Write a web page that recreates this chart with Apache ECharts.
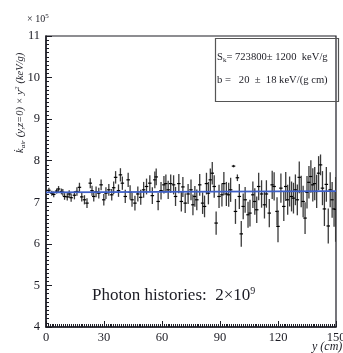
<!DOCTYPE html>
<html>
<head>
<meta charset="utf-8">
<script src="https://cdn.jsdelivr.net/npm/echarts@6/dist/echarts.min.js"></script>
<style>
  html, body { margin: 0; padding: 0; background: #fff; }
  #chart { width: 343px; height: 353px; }
</style>
</head>
<body>
<div id="chart"></div>
<script>
// y position along the phantom (cm)
const positions = [
  1.5, 3, 4, 5.5, 6.5, 8, 8.7, 9.6, 11, 12, 13, 14.7, 16, 17.3, 18.5, 19.9, 21.2, 22.9, 23.8, 24.7,
  25.9, 27.3, 28.5, 29.9, 31, 32.5, 34, 35, 36, 37.5, 38.5, 39.5, 41, 42.5, 43.5, 44.5, 46, 47.5, 49, 50.5,
  52, 53.7, 55, 56.3, 57, 58, 59.5, 61, 62, 63.2, 64.5, 66, 67, 68.7, 70, 70.8, 72, 73.5, 75, 76,
  77, 78, 79.5, 81, 82, 83, 84, 85, 86, 87, 88, 89.5, 91, 92, 93.3, 94.5, 95.5, 97, 98, 99,
  100, 101, 102, 103, 104.5, 105.5, 107, 108, 109, 110, 111.5, 113, 114, 115.5, 117, 118, 119.5, 120, 121.5, 123,
  124, 125, 126, 127, 128, 129, 130, 131, 132, 133, 134, 135, 136, 137, 138, 139, 140, 141, 142, 143,
  144, 145, 146, 147, 148, 149, 149.8
];
// k_air(y,z=0) * y^2, in units of 1e5 keV/g
const values = [
  7.29, 7.22, 7.19, 7.27, 7.32, 7.26, 7.24, 7.14, 7.13, 7.20, 7.11, 7.17, 7.26, 7.36, 7.13, 7.06, 6.98, 7.46, 7.28, 7.14,
  7.25, 7.22, 7.42, 7.06, 7.22, 7.30, 7.18, 7.35, 7.60, 7.28, 7.66, 7.46, 7.14, 7.54, 7.24, 7.06, 6.98, 7.20, 7.12, 7.30,
  7.38, 7.46, 7.16, 7.54, 7.61, 7.02, 7.28, 7.42, 7.45, 7.30, 7.45, 7.42, 7.14, 7.45, 7.02, 7.37, 6.98, 7.20, 7.30, 6.94,
  7.14, 7.06, 7.42, 6.98, 6.90, 7.45, 7.22, 7.54, 7.70, 7.38, 6.50, 7.14, 7.18, 7.45, 7.20, 7.18, 7.30, 7.87, 6.78, 7.59,
  7.14, 6.24, 6.90, 7.06, 6.70, 6.74, 7.18, 7.02, 6.82, 7.38, 7.20, 6.94, 7.20, 6.74, 7.42, 7.38, 6.78, 6.42, 7.34, 6.90,
  7.38, 7.06, 7.26, 7.14, 7.10, 7.30, 7.06, 7.60, 7.26, 7.02, 6.62, 7.24, 7.48, 7.62, 7.42, 7.45, 7.26, 7.70, 7.90, 7.34,
  6.84, 7.43, 6.43, 7.30, 7.06, 6.84, 6.83
];
// statistical uncertainty (1e5 keV/g)
const errors = [
  0.06, 0.06, 0.07, 0.06, 0.07, 0.07, 0.08, 0.08, 0.09, 0.09, 0.10, 0.10, 0.10, 0.11, 0.11, 0.11, 0.12, 0.12, 0.12, 0.12,
  0.13, 0.13, 0.13, 0.14, 0.14, 0.14, 0.14, 0.15, 0.15, 0.15, 0.16, 0.16, 0.16, 0.17, 0.17, 0.17, 0.18, 0.18, 0.18, 0.19,
  0.19, 0.19, 0.20, 0.20, 0.20, 0.21, 0.21, 0.21, 0.22, 0.22, 0.22, 0.23, 0.23, 0.23, 0.24, 0.24, 0.24, 0.24, 0.25, 0.25,
  0.25, 0.25, 0.26, 0.26, 0.26, 0.26, 0.27, 0.27, 0.27, 0.27, 0.28, 0.28, 0.28, 0.28, 0.29, 0.29, 0.29, 0.03, 0.30, 0.08,
  0.30, 0.31, 0.31, 0.31, 0.31, 0.32, 0.32, 0.32, 0.32, 0.33, 0.33, 0.33, 0.33, 0.34, 0.34, 0.34, 0.34, 0.38, 0.35, 0.35,
  0.35, 0.36, 0.36, 0.36, 0.37, 0.37, 0.37, 0.38, 0.38, 0.38, 0.38, 0.39, 0.39, 0.39, 0.40, 0.40, 0.40, 0.41, 0.25, 0.41,
  0.41, 0.42, 0.42, 0.42, 0.43, 0.43, 0.78
];
// linear fit  S_k + b*y
const fitLine = [[0, 7.238], [150, 7.268]];
const xTicks = [0, 30, 60, 90, 120, 150];
const yTicks = [4, 5, 6, 7, 8, 9, 10, 11];

const serif = '"Liberation Serif", "DejaVu Serif", serif';
const ink = '#1c1c24';

const points = positions.map((x, i) => [x, values[i], errors[i]]);

const chart = echarts.init(document.getElementById('chart'), null, { renderer: 'canvas' });

chart.setOption({
  animation: false,
  backgroundColor: '#fff',
  grid: {
    left: 46, top: 36, right: 7, bottom: 26,
    outerBoundsMode: 'none',
    containLabel: false,
    show: true, borderColor: ink, borderWidth: 1.2
  },
  xAxis: {
    type: 'value',
    min: xTicks[0], max: xTicks[xTicks.length - 1], interval: 30,
    axisLine: { lineStyle: { color: ink, width: 1.5 } },
    axisTick: { inside: true, length: 6, lineStyle: { color: ink } },
    minorTick: { show: true, splitNumber: 30, length: 3, lineStyle: { color: ink } },
    splitLine: { show: false },
    axisLabel: { fontFamily: serif, fontSize: 12.5, color: ink, margin: 4, showMaxLabel: true, hideOverlap: false }
  },
  yAxis: {
    type: 'value',
    min: yTicks[0], max: yTicks[yTicks.length - 1], interval: 1,
    axisLine: { lineStyle: { color: ink, width: 1.5 } },
    axisTick: { inside: true, length: 6, lineStyle: { color: ink } },
    minorTick: { show: true, splitNumber: 10, length: 3, lineStyle: { color: ink } },
    splitLine: { show: false },
    axisLabel: { fontFamily: serif, fontSize: 12.5, color: ink, margin: 6 }
  },
  graphic: [
    {
      type: 'rect', left: 213, top: 36,
      shape: { width: 123, height: 63 },
      style: { fill: 'none', stroke: '#555', lineWidth: 1.2 }
    },
    {
      type: 'text', left: 217, top: 52,
      style: {
        text: '{n|S}{s|k}{n|= 723800± 1200  keV/g}',
        rich: {
          n: { fontFamily: serif, fontSize: 10.6, fill: ink },
          s: { fontFamily: serif, fontSize: 7, fill: ink, padding: [5, 0, 0, 0] }
        }
      }
    },
    {
      type: 'text', left: 217, top: 75,
      style: { text: 'b =   20  ±  18 keV/(g cm)', fontFamily: serif, fontSize: 10.6, fill: ink }
    },
    {
      type: 'text', left: 27, top: 13,
      style: {
        text: '{n|× 10}{p|5}',
        rich: {
          n: { fontFamily: serif, fontSize: 10, fill: ink },
          p: { fontFamily: serif, fontSize: 7, fill: ink, padding: [0, 0, 6, 0] }
        }
      }
    },
    {
      type: 'text', x: 14, y: 153, rotation: Math.PI / 2,
      style: {
        text: '{i|k\u0307}{s|air}{i|(y,z=0) × y}{p|2}{i|(keV/g)}',
        rich: {
          i: { fontFamily: serif, fontStyle: 'italic', fontSize: 10.5, fill: ink },
          s: { fontFamily: serif, fontStyle: 'italic', fontSize: 7, fill: ink, padding: [6, 3, 0, 0] },
          p: { fontFamily: serif, fontStyle: 'italic', fontSize: 7, fill: ink, padding: [0, 3, 6, 0] }
        }
      }
    },
    {
      type: 'text', left: 92, top: 286,
      style: {
        text: '{n|Photon histories:  2×10}{p|9}',
        rich: {
          n: { fontFamily: serif, fontSize: 17, fill: ink },
          p: { fontFamily: serif, fontSize: 10, fill: ink, padding: [0, 0, 10, 0] }
        }
      }
    },
    {
      type: 'text', left: 312, top: 341,
      style: { text: 'y (cm)', fontFamily: serif, fontStyle: 'italic', fontSize: 12, fill: ink }
    }
  ],
  series: [
    {
      type: 'custom',
      clip: true,
      data: points,
      encode: { x: 0, y: 1 },
      renderItem: (params, api) => {
        const x = api.value(0);
        const v = api.value(1);
        const e = api.value(2);
        const top = api.coord([x, v + e]);
        const bot = api.coord([x, v - e]);
        const l = api.coord([x - 0.9, v]);
        const r = api.coord([x + 0.9, v]);
        return {
          type: 'group',
          children: [
            { type: 'line', shape: { x1: top[0], y1: top[1], x2: bot[0], y2: bot[1] },
              style: { stroke: '#3a3a3a', lineWidth: 1.3 } },
            { type: 'line', shape: { x1: l[0], y1: l[1], x2: r[0], y2: r[1] },
              style: { stroke: '#000', lineWidth: 1.2 } }
          ]
        };
      }
    },
    {
      type: 'line',
      data: fitLine,
      symbol: 'none',
      z: 5,
      lineStyle: { color: '#3d5fc8', width: 1.8 }
    }
  ]
});
</script>
</body>
</html>
